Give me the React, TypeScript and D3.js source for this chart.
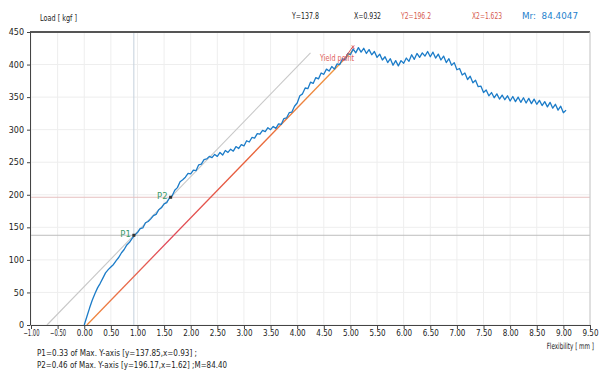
import React, { useEffect, useRef } from 'react';
import * as d3 from 'd3';

// flexibility step between samples (mm)
const STEP = 0.05;
// load samples [kgf], one every STEP mm starting at 0.00
const loads = [
  0, 13, 26, 38, 48, 57, 64, 72, 80, 85,
  89, 93, 99, 104, 111, 116, 123, 127, 133, 138,
  142, 148, 149, 157, 159, 163, 168, 170, 177, 180,
  186, 188, 195, 198, 207, 211, 220, 223, 227, 233,
  232, 238, 237, 246, 247, 254, 255, 259, 257, 262,
  259, 265, 261, 268, 265, 270, 267, 274, 271, 277,
  275, 283, 281, 288, 287, 294, 293, 299, 297, 303,
  300, 305, 302, 309, 308, 317, 318, 326, 327, 336,
  341, 352, 355, 364, 363, 373, 371, 380, 378, 387,
  385, 393, 390, 397, 393, 401, 400, 409, 407, 417,
  415, 424, 418, 426, 419, 425, 417, 423, 415, 420,
  411, 416, 407, 412, 403, 409, 399, 406, 398, 406,
  402, 410, 405, 415, 408, 417, 411, 418, 413, 420,
  412, 419, 410, 416, 407, 413, 403, 409, 399, 403,
  392, 394, 384, 387, 377, 382, 372, 376, 366, 367,
  357, 361, 352, 357, 349, 355, 347, 353, 346, 352,
  344, 351, 343, 350, 342, 349, 341, 348, 340, 347,
  339, 345, 337, 343, 335, 342, 333, 339, 330, 336,
  326, 330,
];

const xTicks = [-1, -0.5, 0, 0.5, 1, 1.5, 2, 2.5, 3, 3.5, 4, 4.5, 5, 5.5, 6, 6.5, 7, 7.5, 8, 8.5, 9, 9.5];
const yTicks = [0, 50, 100, 150, 200, 250, 300, 350, 400, 450];

const M = 84.4;
const P1 = { x: 0.932, y: 137.8 };
const P2 = { x: 1.623, y: 196.2 };
const modulusLine = [-0.7, 4.25];   // grey line through P1/P2
const offsetLine = [0.05, 5.05];    // offset line up to yield
const yieldPt = { x: 5.05, y: 428 };

const headerItems = [
  { text: 'Y=137.8', x: 292, w: 27, color: '#222' },
  { text: 'X=0.932', x: 354, w: 27, color: '#222' },
  { text: 'Y2=196.2', x: 401, w: 30, color: '#d65a4e' },
  { text: 'X2=1.623', x: 472, w: 30, color: '#d65a4e' },
];

const FONT = '"DejaVu Sans", Arial, sans-serif';

const App = () => {
  const svgRef = useRef<SVGSVGElement>(null);

  useEffect(() => {
    const svg = d3.select(svgRef.current);
    svg.selectAll('*').remove();

    const width = 599;
    const height = 376;
    const left = 31, right = 590, top = 32, bottom = 325;

    const x = d3.scaleLinear().domain([-1, 9.5]).range([left, right]);
    const y = d3.scaleLinear().domain([0, 450]).range([bottom, top]);

    svg.attr('width', width).attr('height', height)
      .style('position', 'absolute').style('left', 0).style('top', 0)
      .style('background', '#fff')
      .style('font-family', FONT);

    const defs = svg.append('defs');
    const grad = defs.append('linearGradient')
      .attr('id', 'offsetGrad')
      .attr('gradientUnits', 'userSpaceOnUse')
      .attr('x1', x(offsetLine[0])).attr('y1', y(0))
      .attr('x2', x(offsetLine[1])).attr('y2', y(M * (offsetLine[1] - offsetLine[0])));
    grad.append('stop').attr('offset', '0%').attr('stop-color', '#f08a3a');
    grad.append('stop').attr('offset', '30%').attr('stop-color', '#e0485a');
    grad.append('stop').attr('offset', '60%').attr('stop-color', '#e8603a');
    grad.append('stop').attr('offset', '100%').attr('stop-color', '#f0a040');

    // grid
    svg.append('g').selectAll('line').data(xTicks).enter().append('line')
      .attr('x1', d => x(d)).attr('x2', d => x(d))
      .attr('y1', top).attr('y2', bottom)
      .attr('stroke', '#eeeeee').attr('stroke-width', 1);
    svg.append('g').selectAll('line').data(yTicks).enter().append('line')
      .attr('x1', left).attr('x2', right)
      .attr('y1', d => y(d)).attr('y2', d => y(d))
      .attr('stroke', '#eeeeee').attr('stroke-width', 1);

    // marker lines for P1 / P2
    svg.append('line')
      .attr('x1', x(P1.x)).attr('x2', x(P1.x)).attr('y1', top).attr('y2', bottom)
      .attr('stroke', '#c4d0dc').attr('stroke-width', 1);
    svg.append('line')
      .attr('x1', left).attr('x2', right).attr('y1', y(P1.y)).attr('y2', y(P1.y))
      .attr('stroke', '#bdbdbd').attr('stroke-width', 1);
    svg.append('line')
      .attr('x1', left).attr('x2', right).attr('y1', y(P2.y)).attr('y2', y(P2.y))
      .attr('stroke', '#e6c0c0').attr('stroke-width', 1);

    // modulus line
    svg.append('line')
      .attr('x1', x(modulusLine[0])).attr('y1', y(0))
      .attr('x2', x(modulusLine[1])).attr('y2', y(M * (modulusLine[1] - modulusLine[0])))
      .attr('stroke', '#c8c8c8').attr('stroke-width', 1.1);

    // offset line
    svg.append('line')
      .attr('x1', x(offsetLine[0])).attr('y1', y(0))
      .attr('x2', x(offsetLine[1])).attr('y2', y(M * (offsetLine[1] - offsetLine[0])))
      .attr('stroke', 'url(#offsetGrad)').attr('stroke-width', 1.3);

    // data curve
    const line = d3.line<number>()
      .x((_, i) => x(i * STEP))
      .y(d => y(d));
    svg.append('path')
      .datum(loads)
      .attr('d', line)
      .attr('fill', 'none')
      .attr('stroke', '#1c7cc8')
      .attr('stroke-width', 1.3)
      .attr('stroke-linejoin', 'round');

    // yield point
    svg.append('line')
      .attr('x1', x(4.85)).attr('y1', y(405))
      .attr('x2', x(yieldPt.x)).attr('y2', y(yieldPt.y))
      .attr('stroke', '#d9534f').attr('stroke-width', 1);
    svg.append('text')
      .attr('x', x(yieldPt.x)).attr('y', y(yieldPt.y) + 3)
      .attr('text-anchor', 'middle').attr('font-size', 7).attr('fill', '#d9534f')
      .text('x');
    svg.append('text')
      .attr('x', x(4.43)).attr('y', y(406))
      .attr('font-size', 8.5).attr('fill', '#e0605a')
      .attr('textLength', 34).attr('lengthAdjust', 'spacingAndGlyphs')
      .text('Yield point');

    // P1 / P2
    [{ p: P1, label: 'P1' }, { p: P2, label: 'P2' }].forEach(({ p, label }) => {
      svg.append('rect')
        .attr('x', x(p.x) - 1.5).attr('y', y(p.y) - 1.5)
        .attr('width', 3).attr('height', 3).attr('fill', '#333');
      svg.append('text')
        .attr('x', x(p.x) - 3).attr('y', y(p.y) + 2)
        .attr('text-anchor', 'end').attr('font-size', 8.5).attr('fill', '#3a9a6a')
        .text(label);
    });

    // frame
    svg.append('line').attr('x1', left - 1).attr('x2', right).attr('y1', top).attr('y2', top)
      .attr('stroke', '#555').attr('stroke-width', 2);
    svg.append('line').attr('x1', right).attr('x2', right).attr('y1', top).attr('y2', bottom)
      .attr('stroke', '#c8c8c8').attr('stroke-width', 1);

    // axes
    const xAxis = svg.append('g')
      .attr('transform', `translate(0,${bottom})`)
      .call(d3.axisBottom(x).tickValues(xTicks).tickFormat(d3.format('.2f')).tickSize(4).tickSizeOuter(0));
    xAxis.select('.domain').attr('stroke', '#444');
    xAxis.selectAll('line').attr('stroke', '#444');
    xAxis.selectAll('text').attr('font-size', 8).attr('font-family', FONT).attr('fill', '#222')
      .attr('dy', '0.55em').attr('textLength', 16).attr('lengthAdjust', 'spacingAndGlyphs');

    const yAxis = svg.append('g')
      .attr('transform', `translate(${left - 1},0)`)
      .call(d3.axisLeft(y).tickValues(yTicks).tickFormat(d3.format('d')).tickSize(3).tickSizeOuter(0));
    yAxis.select('.domain').attr('stroke', '#444');
    yAxis.selectAll('line').attr('stroke', '#444');
    yAxis.selectAll('text').attr('font-size', 8).attr('font-family', FONT).attr('fill', '#222');

    // titles
    svg.append('text').attr('x', 40).attr('y', 21).attr('font-size', 8.5).attr('fill', '#222')
      .attr('textLength', 37).attr('lengthAdjust', 'spacingAndGlyphs')
      .text('Load [ kgf ]');
    svg.append('text')
      .attr('transform', 'translate(594,349) scale(0.66,1)')
      .attr('text-anchor', 'end')
      .attr('font-size', 8.5).attr('fill', '#222')
      .text('Flexibility [ mm ]');

    headerItems.forEach(h => {
      svg.append('text').attr('x', h.x).attr('y', 19).attr('font-size', 8.5)
        .attr('fill', h.color).attr('textLength', h.w).attr('lengthAdjust', 'spacingAndGlyphs')
        .text(h.text);
    });
    svg.append('text').attr('x', 522).attr('y', 19).attr('font-size', 9.5)
      .attr('fill', '#1e7fcc').attr('xml:space', 'preserve')
      .attr('textLength', 56).attr('lengthAdjust', 'spacingAndGlyphs')
      .text('Mr:  84.4047');

    // footer notes
    svg.append('text').attr('x', 37).attr('y', 356).attr('font-size', 9).attr('fill', '#222')
      .attr('textLength', 160).attr('lengthAdjust', 'spacingAndGlyphs')
      .text('P1=0.33 of Max. Y-axis [y=137.85,x=0.93] ;');
    svg.append('text').attr('x', 37).attr('y', 368).attr('font-size', 9).attr('fill', '#222')
      .attr('textLength', 190).attr('lengthAdjust', 'spacingAndGlyphs')
      .text('P2=0.46 of Max. Y-axis [y=196.17,x=1.62] ;M=84.40');
  }, []);

  return <svg ref={svgRef} />;
};

export default App;
